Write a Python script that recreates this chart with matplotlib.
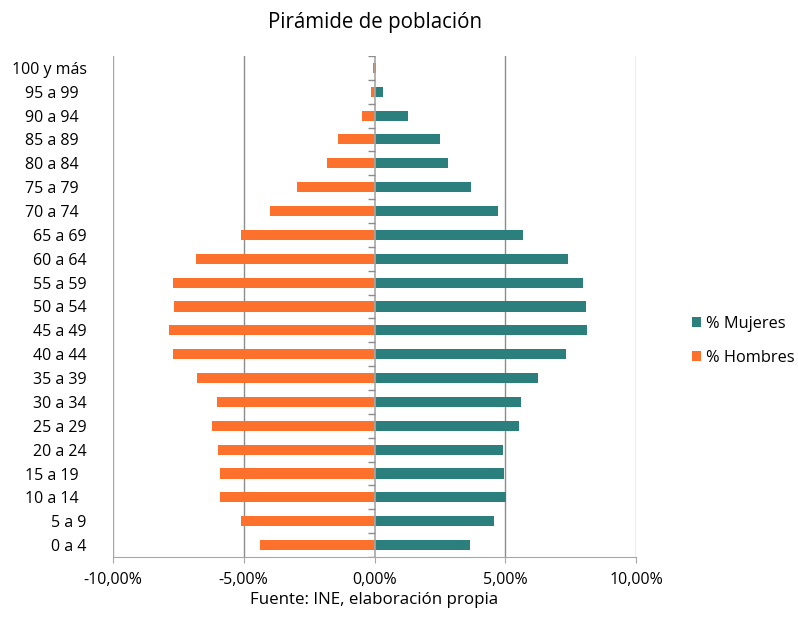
import matplotlib.pyplot as plt
import numpy as np

# algunas etiquetas traen espacios al final en el original
edades = ["0 a 4", "5 a 9", "10 a 14  ", "15 a 19  ", "20 a 24", "25 a 29", "30 a 34",
          "35 a 39", "40 a 44", "45 a 49", "50 a 54", "55 a 59", "60 a 64", "65 a 69",
          "70 a 74  ", "75 a 79  ", "80 a 84  ", "85 a 89  ", "90 a 94  ", "95 a 99  ",
          "100 y más"]
# % sobre el total, de 0 a 4 hacia arriba
mujeres = [3.66, 4.56, 5.01, 4.95, 4.92, 5.52, 5.62, 6.25, 7.31, 8.12, 8.08,
           7.98, 7.41, 5.66, 4.74, 3.69, 2.81, 2.50, 1.28, 0.32, 0.05]
hombres = [4.39, 5.09, 5.92, 5.92, 5.99, 6.22, 6.02, 6.78, 7.72, 7.86, 7.65,
           7.72, 6.82, 5.11, 4.01, 2.98, 1.83, 1.41, 0.47, 0.13, 0.06]
xticks = [-10, -5, 0, 5, 10]

teal = "#2b807e"
orange = "#fd712c"
gray = "#a6a6a6"

plt.rcParams['font.family'] = ['Open Sans', 'DejaVu Sans']

fig = plt.figure(figsize=(7.98, 6.2), dpi=100)
ax = fig.add_axes([0.1416, 0.1016, 0.6554, 0.8081])

y = np.arange(len(edades))
ax.barh(y, mujeres, height=0.42, color=teal, label="% Mujeres", zorder=3)
ax.barh(y, -np.array(hombres), height=0.42, color=orange, label="% Hombres", zorder=3)

ax.set_xlim(-10, 10)
ax.set_ylim(-0.5, len(edades) - 0.5)
ax.set_xticks(xticks)
ax.set_xticklabels([f"{v:.2f}%".replace(".", ",") for v in xticks], fontsize=11.5)
ax.set_yticks(y)
ax.set_yticklabels(edades, fontsize=11.5)
ax.tick_params(axis="y", length=0, pad=19)
ax.tick_params(axis="x", length=4, color=gray, pad=7)

for v in xticks:
    if v != 0:
        ax.axvline(v, color="#8c8c8c" if v == -5 or v == 5 else gray, lw=1, zorder=1)
ax.axvline(0, color=gray, lw=1.2, zorder=4)
bounds = np.arange(len(edades) + 1) - 0.5
ax.hlines(bounds, -0.25, 0, color="#8c8c8c", lw=1, zorder=4)

for s in ["top", "right", "left"]:
    ax.spines[s].set_visible(False)
ax.spines["bottom"].set_color(gray)

ax.set_title("Pirámide de población", fontsize=14.8, pad=20)
ax.set_xlabel("Fuente: INE, elaboración propia", fontsize=12.2, labelpad=3)

h, l = ax.get_legend_handles_labels()
fig.legend(h, l, loc="center left", bbox_to_anchor=(0.849, 0.45), frameon=False,
           fontsize=11.8, labelspacing=1.1, handlelength=0.55, handleheight=0.55,
           handletextpad=0.3)

fig.savefig("out.png", dpi=100)
